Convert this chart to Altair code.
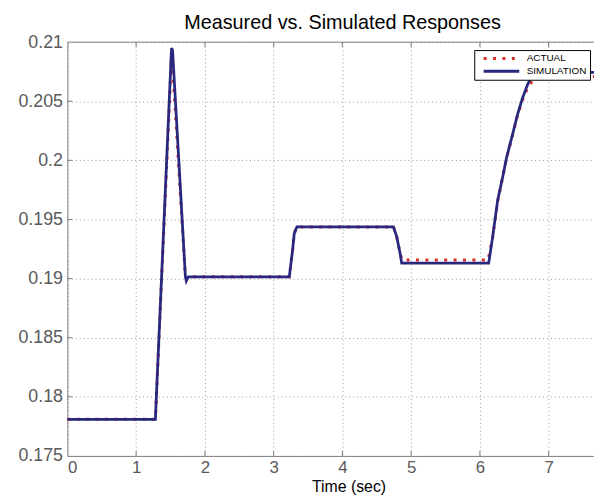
import altair as alt
import pandas as pd

# ---- data ----
sim_t = [0.0, 1.28, 1.515, 1.53, 1.716, 1.73, 1.76, 3.228, 3.276, 3.300, 3.338,
         4.743, 4.791, 4.839, 4.863, 6.128, 6.186, 6.258, 6.330, 6.388, 6.475,
         6.547, 6.619, 6.691, 6.753, 6.82, 6.90, 7.00, 7.66]
sim_v = [0.1781, 0.1781, 0.2095, 0.2093, 0.1902, 0.1898, 0.19015, 0.19015, 0.19242,
         0.19382, 0.19437, 0.19437, 0.19353, 0.19214, 0.1913, 0.1913, 0.19353,
         0.1966, 0.19855, 0.20023, 0.20219, 0.20386, 0.20525, 0.20637, 0.20715,
         0.20738, 0.20743, 0.20745, 0.20745]

act_t = [0.0, 1.28, 1.51, 1.53, 1.716, 1.73, 1.76, 3.228, 3.276, 3.300, 3.338,
         4.743, 4.791, 4.839, 4.87, 6.12, 6.186, 6.258, 6.330, 6.388, 6.475,
         6.547, 6.619, 6.691, 6.77, 6.85, 6.95, 7.66]
act_v = [0.1781, 0.1781, 0.2082, 0.2080, 0.1902, 0.1900, 0.19015, 0.19015, 0.19242,
         0.19382, 0.19437, 0.19437, 0.19353, 0.19214, 0.19158, 0.19158, 0.1935,
         0.1965, 0.1985, 0.2002, 0.2021, 0.2038, 0.2051, 0.2061, 0.2068, 0.2071,
         0.2071, 0.2071]

series_names = ["ACTUAL", "SIMULATION"]
series_colors = ["#dd2c2c", "#28287e"]
x_ticks = [0, 1, 2, 3, 4, 5, 6, 7]
y_ticks = [0.175, 0.18, 0.185, 0.19, 0.195, 0.2, 0.205, 0.21]
x_domain = [0, 7.66]
y_domain = [0.175, 0.21]

W, H = 532, 418
FONT = "Liberation Sans"

df = pd.DataFrame({
    "t": sim_t + act_t,
    "v": sim_v + act_v,
    "series": ["SIMULATION"] * len(sim_t) + ["ACTUAL"] * len(act_t),
})

x_enc = alt.X("t:Q", scale=alt.Scale(domain=x_domain, nice=False, zero=False),
              axis=alt.Axis(values=x_ticks, format="d", title="Time (sec)", titleX=284,
                            titleY=36, titleBaseline="alphabetic", titleAlign="center",
                            titleFontSize=16, labelFontSize=17, labelPadding=4))
y_enc = alt.Y("v:Q", scale=alt.Scale(domain=y_domain, nice=False, zero=False),
              axis=alt.Axis(values=y_ticks, format="~g", title=None))

legend_kw = dict(title=None, orient="none", legendX=411, legendY=8,
                 fillColor="white", strokeColor="black", padding=3,
                 symbolType="stroke", symbolSize=1296, symbolStrokeWidth=3,
                 labelFontSize=10, labelFont=FONT, labelColor="black", clipHeight=11,
                 rowPadding=2, labelOffset=6, symbolOffset=5)
color_enc = alt.Color("series:N",
                      scale=alt.Scale(domain=series_names, range=series_colors),
                      legend=alt.Legend(**legend_kw))
dash_enc = alt.StrokeDash("series:N",
                          scale=alt.Scale(domain=series_names, range=[[3, 6.5], [1, 0]]),
                          legend=alt.Legend(**legend_kw))

base = alt.Chart(df)
actual = base.transform_filter(alt.datum.series == "ACTUAL").mark_line(
    strokeWidth=3, strokeCap="butt").encode(x=x_enc, y=y_enc, color=color_enc, strokeDash=dash_enc)
sim = base.transform_filter(alt.datum.series == "SIMULATION").mark_line(
    strokeWidth=2.8).encode(x=x_enc, y=y_enc, color=color_enc, strokeDash=dash_enc)

# frame: top border and inward ticks
frame_df = pd.DataFrame({"edge": ["top"]})
top_border = alt.Chart(frame_df).mark_rule(color="#7f7f7f", strokeWidth=1).encode(
    x=alt.value(0), x2=alt.value(W), y=alt.value(0))

xt_df = pd.DataFrame({"xt": x_ticks[1:]})
yt_df = pd.DataFrame({"yt": y_ticks[1:-1]})
xticks_bottom = alt.Chart(xt_df).mark_rule(color="#7f7f7f").encode(
    x="xt:Q", y=alt.value(H), y2=alt.value(H - 5))
xticks_top = alt.Chart(xt_df).mark_rule(color="#7f7f7f").encode(
    x="xt:Q", y=alt.value(0), y2=alt.value(5))
yticks_left = alt.Chart(yt_df).mark_rule(color="#7f7f7f").encode(
    y="yt:Q", x=alt.value(0), x2=alt.value(5))

chart = alt.layer(xticks_bottom, xticks_top, yticks_left, actual, sim, top_border).properties(
    width=W, height=H,
    title=alt.Title("Measured vs. Simulated Responses", fontSize=20, fontWeight="normal",
                    color="black", font=FONT, anchor="middle", frame="group", dx=12,
                    dy=18, offset=2, baseline="alphabetic"),
    autosize=alt.AutoSizeParams(type="none"),
    padding={"left": 60, "top": 32, "right": 0, "bottom": 38},
).configure_view(stroke=None).configure_axis(
    labelFont=FONT, labelFontSize=18, labelColor="#5a5a5a", ticks=False,
    domainColor="#7f7f7f", domainWidth=1, grid=True, gridColor="#9a9a9a",
    gridDash=[1, 3], gridWidth=1, titleFont=FONT, titleFontSize=17,
    titleFontWeight="normal", titleColor="black",
).configure_axisY(labelPadding=5)

chart.save("out.html", embed_options={"renderer": "svg", "actions": False})
